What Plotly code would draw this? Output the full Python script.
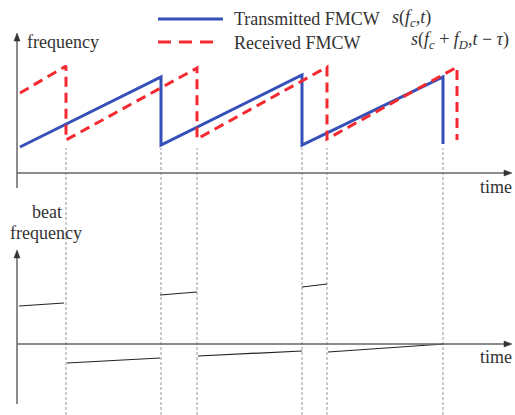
import plotly.graph_objects as go

# ---------------- data ----------------
# Transmitted FMCW chirp: time vs frequency (top panel)
tx_time = [0.3, 14.4, 14.4, 28.5, 28.5, 42.6, 42.6]
tx_freq = [2.6, 9.6, 2.8, 9.8, 2.8, 9.6, 2.9]

# Received FMCW chirp (delayed + Doppler shifted)
rx_time = [0.3, 4.9, 4.9, 18.0, 18.0, 31.0, 31.0, 44.0, 44.0]
rx_freq = [8.0, 10.7, 3.3, 10.5, 3.4, 10.6, 3.4, 10.6, 3.3]

# Beat frequency segments (bottom panel)
beat_t0 = [0.2, 5.0, 14.3, 18.1, 28.5, 31.1]
beat_t1 = [4.7, 14.3, 18.0, 28.5, 31.0, 42.7]
beat_f0 = [3.8, -1.9, 4.9, -1.2, 5.7, -0.8]
beat_f1 = [4.1, -1.4, 5.2, -0.7, 6.0, 0.0]

# Switching instants (dashed guide lines)
guide_t = [4.9, 14.4, 18.0, 28.5, 31.0, 42.6]
guide_top_freq = 2.5

# ---------------- layout helpers ----------------
W, H = 515, 415
def px(x):
    return x / W
def py(y):
    return 1 - y / H

TOP_DOM = [1 - 200 / H, 1.0]
BOT_DOM = [0.0, 1 - 200 / H]
X_RANGE = [-1.7, 49.8]
Y1_RANGE = [-2.7, 17.3]
Y2_RANGE = [-7.1, 14.4]

BLUE = "#3550b8"
RED = "#f42a30"
TXT = "#333333"
AX = "#666666"
FONT = "Liberation Serif"

fig = go.Figure()

fig.add_trace(go.Scatter(x=tx_time, y=tx_freq, mode="lines", yaxis="y",
                         line=dict(color=BLUE, width=3), showlegend=False,
                         hoverinfo="skip"))
fig.add_trace(go.Scatter(x=rx_time, y=rx_freq, mode="lines", yaxis="y",
                         line=dict(color=RED, width=3, dash="10px,6px"),
                         showlegend=False, hoverinfo="skip"))

bx, by = [], []
for a, b, c, d in zip(beat_t0, beat_t1, beat_f0, beat_f1):
    bx += [a, b, None]
    by += [c, d, None]
fig.add_trace(go.Scatter(x=bx, y=by, mode="lines", yaxis="y2",
                         line=dict(color="#222222", width=1.2),
                         showlegend=False, hoverinfo="skip"))

# guide lines (from top panel down to bottom of figure)
top_paper = TOP_DOM[0] + (guide_top_freq - Y1_RANGE[0]) / (Y1_RANGE[1] - Y1_RANGE[0]) * (TOP_DOM[1] - TOP_DOM[0])
shapes = []
for t in guide_t:
    shapes.append(dict(type="line", xref="x", yref="paper", x0=t, x1=t,
                       y0=0, y1=top_paper,
                       line=dict(color="#999999", width=1, dash="3px,2px"),
                       layer="below"))

# legend samples
shapes.append(dict(type="line", xref="paper", yref="paper",
                   x0=px(158), x1=px(223), y0=py(19), y1=py(19),
                   line=dict(color=BLUE, width=3)))
shapes.append(dict(type="line", xref="paper", yref="paper",
                   x0=px(158), x1=px(216), y0=py(42), y1=py(42),
                   line=dict(color=RED, width=3, dash="13px,8px")))

# axes drawn as lines with small triangular heads
def axis_line(x0, y0, x1, y1):
    shapes.append(dict(type="line", xref="paper", yref="paper",
                       x0=px(x0), y0=py(y0), x1=px(x1), y1=py(y1),
                       line=dict(color=AX, width=1.5)))

def head(xh, yh, direction):
    L, Wd = 8, 3
    if direction == "up":
        pts = [(xh, yh), (xh - Wd, yh + L), (xh + Wd, yh + L)]
    else:
        pts = [(xh, yh), (xh - L, yh - Wd), (xh - L, yh + Wd)]
    path = "M " + " L ".join(f"{px(a):.5f},{py(b):.5f}" for a, b in pts) + " Z"
    shapes.append(dict(type="path", xref="paper", yref="paper", path=path,
                       fillcolor="#333333", line=dict(color="#333333", width=0.5)))

axis_line(17, 40, 17, 188)
head(17, 33, "up")
axis_line(17, 173, 505, 173)
head(512, 173, "right")
axis_line(17, 257, 17, 404)
head(17, 250, "up")
axis_line(17, 344, 505, 344)
head(512, 344, "right")

annotations = []
def label(text, x, y, size=18, anchor="left"):
    annotations.append(dict(x=px(x), y=py(y), xref="paper", yref="paper",
                            text=text, showarrow=False, xanchor=anchor,
                            yanchor="middle",
                            font=dict(family=FONT, size=size, color=TXT)))

label("frequency", 25, 42)
label("time", 514, 187, anchor="right")
label("beat", 30, 212)
label("frequency", 8, 233)
label("time", 514, 357, anchor="right")
label("Transmitted FMCW", 232, 19)
label("Received FMCW", 232, 43)
label("<i>s</i>(<i>f</i><sub><i>c</i></sub>,<i>t</i>)", 390, 18)
label("<i>s</i>(<i>f</i><sub><i>c</i></sub> + <i>f</i><sub><i>D</i></sub>,<i>t</i> \u2212 <i>\u03c4</i>)", 409, 41)

fig.update_layout(
    width=W, height=H,
    margin=dict(l=0, r=0, t=0, b=0),
    paper_bgcolor="white", plot_bgcolor="white",
    xaxis=dict(range=X_RANGE, visible=False, fixedrange=True),
    yaxis=dict(range=Y1_RANGE, domain=TOP_DOM, visible=False, fixedrange=True),
    yaxis2=dict(range=Y2_RANGE, domain=BOT_DOM, visible=False, anchor="x",
                fixedrange=True),
    shapes=shapes,
    annotations=annotations,
)

fig.write_html("out.html", config={"displayModeBar": False},
               post_script="document.body.style.margin='0';document.body.style.overflow='hidden';")
